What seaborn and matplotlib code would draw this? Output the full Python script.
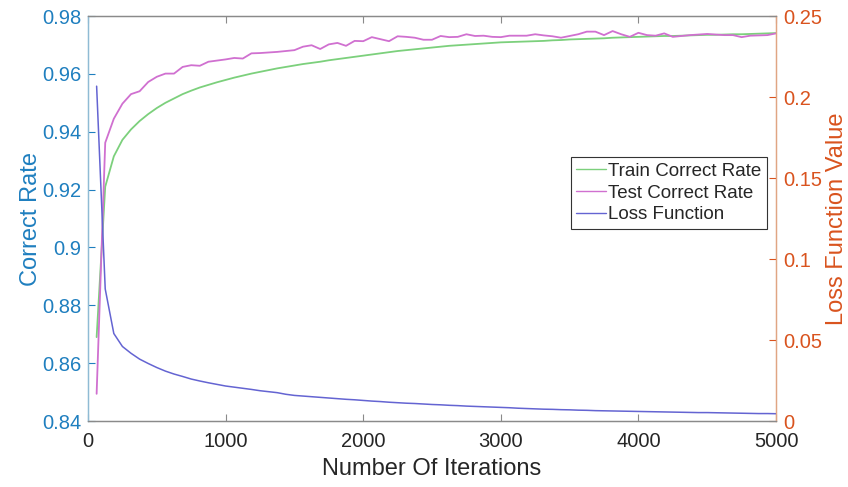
import numpy as np
import pandas as pd
import matplotlib
matplotlib.use("Agg")
import matplotlib.pyplot as plt
import seaborn as sns

# ---------------- data ----------------
iterations = np.linspace(62.5, 5000, 80)

train_rate = [
    0.8690, 0.9210, 0.9315, 0.9372, 0.9408, 0.9437, 0.9461, 0.9482, 0.9500, 0.9515,
    0.9530, 0.9542, 0.9553, 0.9562, 0.9571, 0.9579, 0.9587, 0.9594, 0.9601, 0.9607,
    0.9613, 0.9619, 0.9624, 0.9629, 0.9634, 0.9638, 0.9642, 0.9647, 0.9651, 0.9655,
    0.9659, 0.9663, 0.9667, 0.9671, 0.9675, 0.9679, 0.9682, 0.9685, 0.9688, 0.9691,
    0.9694, 0.9697, 0.9699, 0.9701, 0.9703, 0.9705, 0.9707, 0.9709, 0.9710, 0.9711,
    0.9712, 0.9713, 0.9714, 0.9716, 0.9717, 0.9719, 0.9720, 0.9721, 0.9722, 0.9723,
    0.9725, 0.9726, 0.9727, 0.9728, 0.9729, 0.9730, 0.9731, 0.9731, 0.9732, 0.9733,
    0.9734, 0.9735, 0.9735, 0.9736, 0.9737, 0.9737, 0.9738, 0.9739, 0.9740, 0.9741,
]

test_rate = [
    0.8494, 0.9362, 0.9445, 0.9497, 0.9530, 0.9540, 0.9572, 0.9590, 0.9601, 0.9601,
    0.9624, 0.9630, 0.9628, 0.9642, 0.9646, 0.9650, 0.9655, 0.9653, 0.9671, 0.9672,
    0.9674, 0.9676, 0.9679, 0.9682, 0.9694, 0.9699, 0.9686, 0.9702, 0.9707, 0.9697,
    0.9714, 0.9713, 0.9727, 0.9720, 0.9713, 0.9730, 0.9728, 0.9725, 0.9718, 0.9718,
    0.9731, 0.9727, 0.9728, 0.9737, 0.9731, 0.9732, 0.9728, 0.9727, 0.9732, 0.9732,
    0.9732, 0.9737, 0.9733, 0.9730, 0.9725, 0.9731, 0.9737, 0.9746, 0.9746, 0.9734,
    0.9748, 0.9737, 0.9728, 0.9742, 0.9734, 0.9732, 0.9740, 0.9728, 0.9731, 0.9734,
    0.9736, 0.9738, 0.9736, 0.9734, 0.9734, 0.9727, 0.9732, 0.9733, 0.9734, 0.9740,
]

loss_value = [
    0.2067, 0.0815, 0.0540, 0.0460, 0.0418, 0.0382, 0.0355, 0.0330, 0.0308, 0.0290,
    0.0275, 0.0259, 0.0247, 0.0236, 0.0226, 0.0216, 0.0209, 0.0202, 0.0195, 0.0187,
    0.0181, 0.0175, 0.0165, 0.0158, 0.0154, 0.0150, 0.0146, 0.0142, 0.0138, 0.0134,
    0.0131, 0.0127, 0.0123, 0.0120, 0.0116, 0.0113, 0.0110, 0.0108, 0.0105, 0.0102,
    0.0100, 0.0097, 0.0095, 0.0092, 0.0090, 0.0088, 0.0086, 0.0084, 0.0082, 0.0079,
    0.0077, 0.0075, 0.0073, 0.0072, 0.0070, 0.0069, 0.0067, 0.0066, 0.0064, 0.0063,
    0.0062, 0.0061, 0.0060, 0.0059, 0.0058, 0.0057, 0.0056, 0.0055, 0.0054, 0.0053,
    0.0052, 0.0052, 0.0051, 0.0050, 0.0049, 0.0048, 0.0047, 0.0046, 0.0046, 0.0045,
]

series_names = ["Train Correct Rate", "Test Correct Rate", "Loss Function"]
x_ticks = [0, 1000, 2000, 3000, 4000, 5000]
left_ticks = [0.84, 0.86, 0.88, 0.90, 0.92, 0.94, 0.96, 0.98]
right_ticks = [0, 0.05, 0.10, 0.15, 0.20, 0.25]

# ---------------- style ----------------
sns.set_style("white")
plt.rcParams["font.family"] = ["Liberation Sans", "DejaVu Sans"]

c_train = "#7CD07C"
c_test = "#D070D0"
c_loss = "#6464D2"
c_left = "#1F7FBF"
c_right = "#D9531E"
c_axis = "#8A8A8A"

fig = plt.figure(figsize=(8.48, 4.87), dpi=100)
ax = fig.add_axes([0.1038, 0.1355, 0.8113, 0.8316])
ax2 = ax.twinx()

df = pd.DataFrame({"it": iterations, "train": train_rate,
                   "test": test_rate, "loss": loss_value})

sns.lineplot(data=df, x="it", y="train", ax=ax, color=c_train, lw=1.3, legend=False)
sns.lineplot(data=df, x="it", y="test", ax=ax, color=c_test, lw=1.3, legend=False)
sns.lineplot(data=df, x="it", y="loss", ax=ax2, color=c_loss, lw=1.1, legend=False)

ax.set_xlim(0, 5000)
ax.set_ylim(0.84, 0.98)
ax2.set_ylim(0, 0.25)

ax.set_xticks(x_ticks)
ax.set_xticklabels([str(v) for v in x_ticks])
ax.set_yticks(left_ticks)
ax.set_yticklabels([f"{v:g}" for v in left_ticks])
ax2.set_yticks(right_ticks)
ax2.set_yticklabels([f"{v:g}" for v in right_ticks])

fs = 14.5
ax.tick_params(axis="x", direction="in", top=True, bottom=True, length=5,
               width=0.8, color=c_axis, labelcolor="#262626", labelsize=fs, pad=8)
ax.tick_params(axis="y", direction="in", left=True, right=False, length=5,
               width=0.8, color=c_left, labelcolor=c_left, labelsize=fs, pad=5)
ax2.tick_params(axis="y", direction="in", right=True, left=False, length=5,
                width=0.8, color=c_right, labelcolor=c_right, labelsize=fs, pad=5)

for a in (ax, ax2):
    a.spines["top"].set_color(c_axis)
    a.spines["bottom"].set_color(c_axis)
    a.spines["left"].set_color("#8FBBD4")
    a.spines["right"].set_color("#E0A583")
    for s in a.spines.values():
        s.set_linewidth(0.9)

lab_fs = 17
ax.set_xlabel("Number Of Iterations", fontsize=lab_fs, color="#262626", labelpad=5)
ax.set_ylabel("Correct Rate", fontsize=lab_fs, color=c_left, labelpad=0)
ax2.set_ylabel("Loss Function Value", fontsize=lab_fs, color=c_right, labelpad=3)

handles = [ax.lines[0], ax.lines[1], ax2.lines[0]]
leg = ax2.legend(handles, series_names, loc="upper right",
                 bbox_to_anchor=(0.987, 0.652), fontsize=13.5, frameon=True,
                 fancybox=False, framealpha=1, edgecolor="#333333",
                 handlelength=1.6, handletextpad=0.1, borderpad=0.3,
                 labelspacing=0.25, borderaxespad=0)
leg.get_frame().set_linewidth(0.8)
for h in leg.get_lines():
    h.set_linewidth(1.0)

fig.savefig("out.png", dpi=100)
